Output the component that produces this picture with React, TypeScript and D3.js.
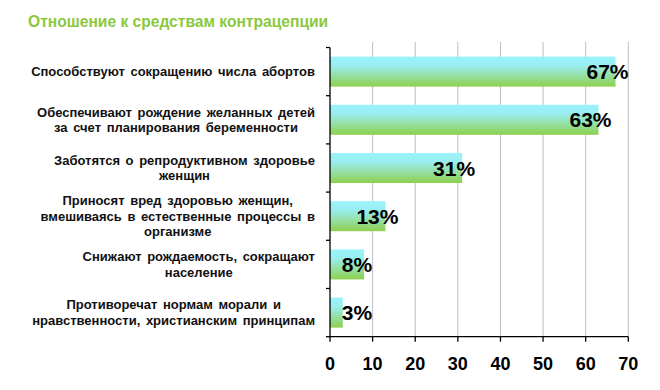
import React, { useEffect, useRef } from 'react'
import * as d3 from 'd3'

// данные
const categories = [
  ['Способствуют сокращению числа абортов'],
  ['Обеспечивают рождение желанных детей', 'за счет планирования беременности'],
  ['Заботятся о репродуктивном здоровье', 'женщин'],
  ['Приносят вред здоровью женщин,', 'вмешиваясь в естественные процессы в', 'организме'],
  ['Снижают рождаемость, сокращают', 'население'],
  ['Противоречат нормам морали и', 'нравственности, христианским принципам'],
]
const values = [67, 63, 31, 13, 8, 3]
const ticks = [0, 10, 20, 30, 40, 50, 60, 70]
const title = 'Отношение к средствам контрацепции'

const W = 660
const H = 390
const left = 330
const right = 628.3
const top = 47.5
const bottom = 336.7

export default function App() {
  const ref = useRef<SVGSVGElement>(null)

  useEffect(() => {
    const svg = d3.select(ref.current)
    svg.selectAll('*').remove()

    const x = d3.scaleLinear().domain([0, 70]).range([left, right])
    const y = d3.scaleBand<number>()
      .domain(d3.range(values.length))
      .range([top, bottom])
      .paddingInner(0.377)
      .paddingOuter(0.1885)

    const defs = svg.append('defs')
    const grad = defs.append('linearGradient')
      .attr('id', 'barGrad').attr('x1', 0).attr('y1', 0).attr('x2', 0).attr('y2', 1)
    grad.append('stop').attr('offset', '0%').attr('stop-color', '#99F3FC')
    grad.append('stop').attr('offset', '30%').attr('stop-color', '#9AEEF0')
    grad.append('stop').attr('offset', '100%').attr('stop-color', '#8ED04E')

    // заголовок
    svg.append('text').text(title)
      .attr('x', 28).attr('y', 26.5)
      .attr('font-family', 'Arial, "Liberation Sans", sans-serif')
      .attr('font-size', 15.6).attr('font-weight', 'bold')
      .attr('fill', '#8CC83E')

    // сетка
    svg.append('g').selectAll('line')
      .data(ticks.slice(1))
      .join('line')
      .attr('x1', d => x(d)).attr('x2', d => x(d))
      .attr('y1', 42).attr('y2', bottom)
      .attr('stroke', '#BDBDBD').attr('stroke-width', 1)

    // бары
    svg.append('g').selectAll('rect')
      .data(values)
      .join('rect')
      .attr('x', x(0))
      .attr('y', (d, i) => y(i)!)
      .attr('width', d => x(d) - x(0))
      .attr('height', y.bandwidth())
      .attr('fill', 'url(#barGrad)')

    // оси
    const ax = svg.append('g').attr('stroke', '#000').attr('stroke-width', 1.3)
    ax.append('line').attr('x1', left).attr('x2', left).attr('y1', top).attr('y2', bottom)
    ax.append('line').attr('x1', left).attr('x2', right).attr('y1', bottom).attr('y2', bottom)
    const step = y.step()
    ax.selectAll('.yt').data(d3.range(values.length + 1)).join('line')
      .attr('x1', left - 4).attr('x2', left)
      .attr('y1', i => top + i * step).attr('y2', i => top + i * step)
    ax.selectAll('.xt').data(ticks).join('line')
      .attr('x1', d => x(d)).attr('x2', d => x(d))
      .attr('y1', bottom).attr('y2', bottom + 5)

    svg.append('g').selectAll('text')
      .data(ticks)
      .join('text')
      .text(d => d)
      .attr('x', d => x(d)).attr('y', 370)
      .attr('text-anchor', 'middle')
      .attr('font-family', 'Arial, "Liberation Sans", sans-serif')
      .attr('font-size', 18).attr('font-weight', 'bold')
      .attr('fill', '#000')

    // подписи значений
    svg.append('g').selectAll('text')
      .data(values)
      .join('text')
      .text(d => d + '%')
      .attr('x', d => Math.max(x(d) - 8, left + 27))
      .attr('y', (d, i) => y(i)! + y.bandwidth() / 2 + 7.5)
      .attr('text-anchor', 'middle')
      .attr('font-family', 'Arial, "Liberation Sans", sans-serif')
      .attr('font-size', 21).attr('font-weight', 'bold')
      .attr('fill', '#000')

    // подписи категорий: строки по центру, блок прижат вправо
    const lh = 15.5
    const labels = svg.append('g')
    categories.forEach((lines, i) => {
      const cy = y(i)! + y.bandwidth() / 2
      const t = labels.append('text')
        .attr('font-family', 'Arial, "Liberation Sans", sans-serif')
        .attr('font-size', 13).attr('font-weight', 'bold')
        .attr('fill', '#111')
        .attr('text-anchor', 'middle')
        .attr('word-spacing', 2)
      const spans = lines.map((s, j) =>
        t.append('tspan').text(s)
          .attr('y', cy + (j - (lines.length - 1) / 2) * lh + 4.5))
      const wmax = d3.max(spans, sp => (sp.node() as SVGTSpanElement).getComputedTextLength()) || 0
      spans.forEach(sp => sp.attr('x', 315 - wmax / 2))
    })
  }, [])

  return (
    <svg ref={ref} width={W} height={H}
      style={{ position: 'absolute', left: 0, top: 0, background: '#fff' }} />
  )
}
